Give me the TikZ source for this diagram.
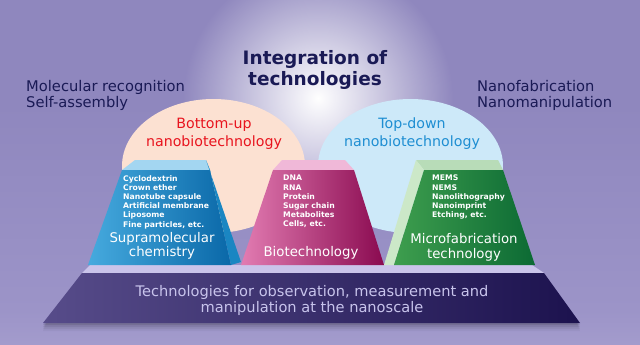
\documentclass[tikz,border=0pt]{standalone}
\usepackage{fontspec}
\setmainfont{DejaVu Sans}
\usetikzlibrary{fadings}

\definecolor{bgtop}{HTML}{8F87BE}
\definecolor{bgmid}{HTML}{9C94C8}
\definecolor{bgbot}{HTML}{C6C1E3}
\definecolor{navy}{HTML}{1A1A55}
\definecolor{peach}{HTML}{FCE1D2}
\definecolor{skyblue}{HTML}{CDE9F9}
\definecolor{redtext}{HTML}{E8141E}
\definecolor{bluetext}{HTML}{1E8ED2}
\definecolor{basetext}{HTML}{C8C4EC}
\definecolor{basetop}{HTML}{CAC4EA}
\definecolor{baseleft}{HTML}{574C8A}
\definecolor{baseright}{HTML}{1C124E}
\definecolor{supratop}{HTML}{A3D6F1}
\definecolor{supraleft}{HTML}{46AADE}
\definecolor{supraright}{HTML}{0A68A8}
\definecolor{supraside}{HTML}{1A86C2}
\definecolor{biotop}{HTML}{F0B8D8}
\definecolor{bioleft}{HTML}{E27CB2}
\definecolor{bioright}{HTML}{8A0A50}
\definecolor{microtop}{HTML}{B8DCB8}
\definecolor{microside}{HTML}{CCE8C8}
\definecolor{microleft}{HTML}{3E9E4E}
\definecolor{microright}{HTML}{0C6A34}
\pgfdeclareverticalshading{bgshade}{100bp}{color(0bp)=(bgbot); color(30bp)=(bgmid); color(60bp)=(bgtop); color(100bp)=(bgtop)}
\tikzfading[name=glowfade, inner color=transparent!0, outer color=transparent!100]

\begin{document}
\begin{tikzpicture}[
  x=1pt, y=-1pt,
  side label/.style={font=\fontsize{14.7}{16}\selectfont, text=navy, align=left, inner sep=0pt},
  dome label/.style={font=\fontsize{14.2}{18}\selectfont, align=center, inner sep=0pt},
  item list/.style={font=\bfseries\fontsize{7.7}{9.2}\selectfont, text=white, align=left, inner sep=0pt, anchor=north west},
  field label/.style={font=\fontsize{13.3}{14.5}\selectfont, text=white, align=center, inner sep=0pt}
]
\useasboundingbox (0,0) rectangle (640,345);

% Background
\shade[shading=bgshade] (0,0) rectangle (640,345);
\fill[white, path fading=glowfade] (318,98) circle (135);

% Domes
\fill[peach] (213.5,166) ellipse (91.5 and 67);
\fill[skyblue] (410.5,166) ellipse (92.5 and 67);

% Base platform
\foreach \d/\o in {2/0.10, 4/0.08, 6/0.06, 8/0.04}
  \fill[black, opacity=\o] (43,323+\d) -- (580,323+\d) -- (574,317) -- (49,317) -- cycle;
\fill[basetop] (90,265) -- (532,265) -- (544,273) -- (82,273) -- cycle;
\shade[left color=baseleft, right color=baseright]
  (82,273) -- (544,273) -- (580,323) -- (43,323) -- cycle;

% Supramolecular chemistry block
\fill[supratop] (122,170) -- (135,160) -- (206,160) -- (210,170) -- cycle;
\shade[left color=supraleft, right color=supraright]
  (122,170) -- (210,170) -- (231,265) -- (88,265) -- cycle;
\fill[supraside] (206,160) -- (241,262) -- (231,265) -- (210,170) -- cycle;

% Biotechnology block
\fill[biotop] (273,170) -- (282,160) -- (345,160) -- (354,170) -- cycle;
\shade[left color=bioleft, right color=bioright]
  (273,170) -- (354,170) -- (384,265) -- (241,265) -- cycle;

% Microfabrication block
\fill[microtop] (416,160) -- (498,160) -- (503,170) -- (424,170) -- cycle;
\fill[microside] (416,160) -- (424,170) -- (394,265) -- (384,265) -- cycle;
\shade[left color=microleft, right color=microright]
  (424,170) -- (503,170) -- (535,265) -- (394,265) -- cycle;

% Nodes
\node[font=\bfseries\fontsize{18.5}{21}\selectfont, text=navy, align=center, inner sep=0pt] (title) at (315,70) {Integration of\\technologies};
\node[side label, anchor=west] (mol) at (26,95) {Molecular recognition\\Self-assembly};
\node[side label, anchor=west] (nano) at (477,95) {Nanofabrication\\Nanomanipulation};
\node[dome label, text=redtext] (bottomup) at (214,134) {Bottom-up\\nanobiotechnology};
\node[dome label, text=bluetext] (topdown) at (412,134) {Top-down\\nanobiotechnology};

\node[item list] (supralist) at (123,175) {Cyclodextrin\\Crown ether\\Nanotube capsule\\Artificial membrane\\Liposome\\Fine particles, etc.};
\node[item list] (biolist) at (283,175) {DNA\\RNA\\Protein\\Sugar chain\\Metabolites\\Cells, etc.};
\node[item list] (microlist) at (432,175) {MEMS\\NEMS\\Nanolithography\\Nanoimprint\\Etching, etc.};

\node[field label] (supra) at (162,246) {Supramolecular\\chemistry};
\node[field label] (bio) at (311,253) {Biotechnology};
\node[field label] (micro) at (464,247.5) {Microfabrication\\technology};

\node[font=\fontsize{14.6}{16}\selectfont, text=basetext, align=center, inner sep=0pt] (base) at (312,300)
  {Technologies for observation, measurement and\\manipulation at the nanoscale};

\end{tikzpicture}
\end{document}
